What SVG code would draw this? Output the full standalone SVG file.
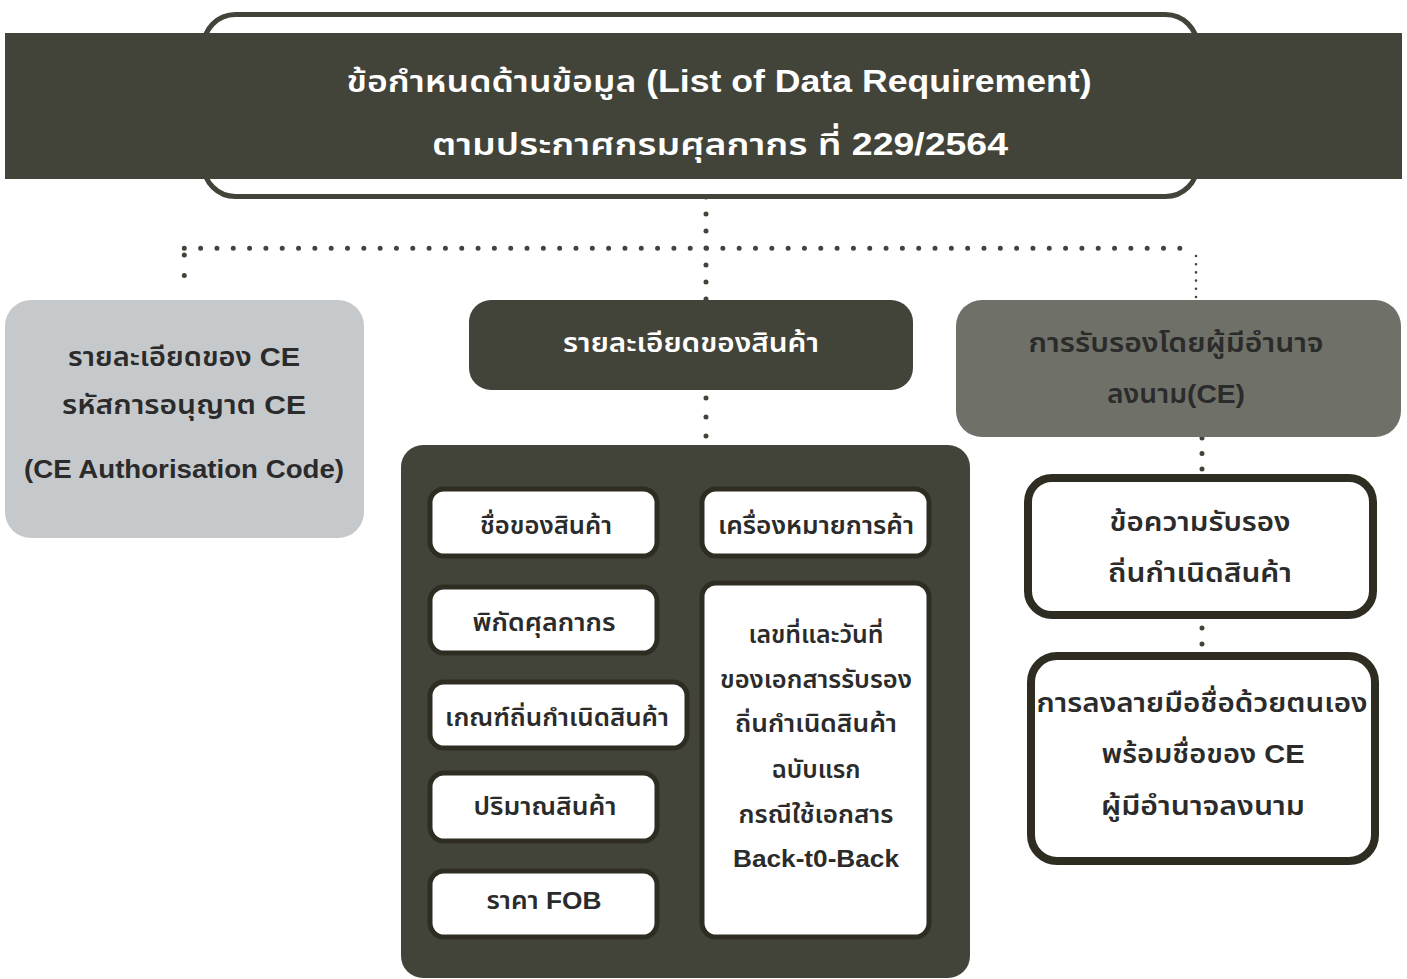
<svg xmlns="http://www.w3.org/2000/svg" width="1407" height="979" viewBox="0 0 1407 979">
<style>
text{font-family:"Liberation Sans","Noto Sans Thai","Noto Sans",sans-serif;font-weight:600;text-anchor:middle}
.t{fill:#ffffff}
.d{fill:#2b2b2b}
.dot{fill:none;stroke:#42443a;stroke-linecap:round}
.inner{fill:#ffffff;stroke:#2f2d22;stroke-width:5}
.outer{fill:#ffffff;stroke:#2f2d22;stroke-width:8}
</style>
<rect width="1407" height="979" fill="#ffffff"/>
<g id="connectors">
<line class="dot" x1="706" y1="197" x2="706" y2="300" stroke-width="5" stroke-dasharray="0 17"/>
<line class="dot" x1="184.3" y1="248.3" x2="1196" y2="248.3" stroke-width="5" stroke-dasharray="0 16.32"/>
<line class="dot" x1="184.3" y1="255" x2="184.3" y2="296" stroke-width="5" stroke-dasharray="0 20.5"/>
<line class="dot" x1="1196" y1="256" x2="1196" y2="298" stroke-width="2.6" stroke-dasharray="0 8.2"/>
<line class="dot" x1="706" y1="398" x2="706" y2="445" stroke-width="5" stroke-dasharray="0 19"/>
<line class="dot" x1="1202" y1="438" x2="1202" y2="470" stroke-width="5" stroke-dasharray="0 15.5"/>
<line class="dot" x1="1202" y1="628" x2="1202" y2="644.5" stroke-width="5" stroke-dasharray="0 16"/>
</g>
<g id="header">
<rect x="203.5" y="14.5" width="994" height="182" rx="32" fill="#ffffff" stroke="#42443a" stroke-width="5"/>
<rect x="5" y="33" width="1397" height="146" fill="#42443a"/>
<text class="t" x="719" y="92" font-size="31" textLength="745" lengthAdjust="spacingAndGlyphs">ข้อกำหนดด้านข้อมูล (List of Data Requirement)</text>
<text class="t" x="720" y="155" font-size="31" textLength="576" lengthAdjust="spacingAndGlyphs">ตามประกาศกรมศุลกากร ที่ 229/2564</text>
</g>
<g id="ce-detail">
<rect x="5" y="300" width="359" height="238" rx="26" fill="#c6c9cc"/>
<text class="d" x="184" y="366" font-size="26" textLength="232" lengthAdjust="spacingAndGlyphs">รายละเอียดของ CE</text>
<text class="d" x="184" y="414" font-size="26" textLength="244" lengthAdjust="spacingAndGlyphs">รหัสการอนุญาต CE</text>
<text class="d" x="184" y="478" font-size="26" textLength="320" lengthAdjust="spacingAndGlyphs">(CE Authorisation Code)</text>
</g>
<g id="goods-detail">
<rect x="469" y="300" width="444" height="90" rx="22" fill="#42443a"/>
<text class="t" x="691" y="352" font-size="26" textLength="256" lengthAdjust="spacingAndGlyphs">รายละเอียดของสินค้า</text>
</g>
<g id="certification">
<rect x="956" y="300" width="445" height="137" rx="26" fill="#6f7168"/>
<text class="d" x="1176" y="352" font-size="26" textLength="295" lengthAdjust="spacingAndGlyphs">การรับรองโดยผู้มีอำนาจ</text>
<text class="d" x="1176" y="403" font-size="26" textLength="138" lengthAdjust="spacingAndGlyphs">ลงนาม(CE)</text>
</g>
<g id="goods-container">
<rect x="401" y="445" width="569" height="533" rx="22" fill="#42443a"/>
</g>
<g id="goods-name">
<rect class="inner" x="430" y="489" width="227" height="67" rx="14"/>
<text class="d" x="546" y="534" font-size="24" textLength="132" lengthAdjust="spacingAndGlyphs">ชื่อของสินค้า</text>
</g>
<g id="trademark">
<rect class="inner" x="702" y="489" width="227" height="67" rx="14"/>
<text class="d" x="816" y="534" font-size="24" textLength="196" lengthAdjust="spacingAndGlyphs">เครื่องหมายการค้า</text>
</g>
<g id="hs-code">
<rect class="inner" x="430" y="587" width="227" height="66" rx="14"/>
<text class="d" x="544" y="631" font-size="24" textLength="143" lengthAdjust="spacingAndGlyphs">พิกัดศุลกากร</text>
</g>
<g id="origin-criteria">
<rect class="inner" x="430" y="682" width="257" height="66" rx="14"/>
<text class="d" x="557" y="726" font-size="24" textLength="224" lengthAdjust="spacingAndGlyphs">เกณฑ์ถิ่นกำเนิดสินค้า</text>
</g>
<g id="quantity">
<rect class="inner" x="430" y="773" width="227" height="68" rx="14"/>
<text class="d" x="545" y="815" font-size="24" textLength="143" lengthAdjust="spacingAndGlyphs">ปริมาณสินค้า</text>
</g>
<g id="fob">
<rect class="inner" x="430" y="871" width="227" height="66" rx="14"/>
<text class="d" x="544" y="909" font-size="24" textLength="115" lengthAdjust="spacingAndGlyphs">ราคา FOB</text>
</g>
<g id="doc-ref">
<rect class="inner" x="702" y="583" width="227" height="354" rx="14"/>
<text class="d" x="816" y="643" font-size="24" textLength="135" lengthAdjust="spacingAndGlyphs">เลขที่และวันที่</text>
<text class="d" x="816" y="688" font-size="24" textLength="192" lengthAdjust="spacingAndGlyphs">ของเอกสารรับรอง</text>
<text class="d" x="816" y="732" font-size="24" textLength="162" lengthAdjust="spacingAndGlyphs">ถิ่นกำเนิดสินค้า</text>
<text class="d" x="816" y="778" font-size="24" textLength="89" lengthAdjust="spacingAndGlyphs">ฉบับแรก</text>
<text class="d" x="816" y="823" font-size="24" textLength="155" lengthAdjust="spacingAndGlyphs">กรณีใช้เอกสาร</text>
<text class="d" x="816" y="867" font-size="24" textLength="166" lengthAdjust="spacingAndGlyphs">Back-t0-Back</text>
</g>
<g id="origin-statement">
<rect class="outer" x="1028" y="478" width="345" height="137" rx="24"/>
<text class="d" x="1200" y="531" font-size="26" textLength="181" lengthAdjust="spacingAndGlyphs">ข้อความรับรอง</text>
<text class="d" x="1200" y="582" font-size="26" textLength="184" lengthAdjust="spacingAndGlyphs">ถิ่นกำเนิดสินค้า</text>
</g>
<g id="signature">
<rect class="outer" x="1031" y="656" width="344" height="205" rx="26"/>
<text class="d" x="1202" y="712" font-size="26" textLength="331" lengthAdjust="spacingAndGlyphs">การลงลายมือชื่อด้วยตนเอง</text>
<text class="d" x="1203" y="763" font-size="26" textLength="203" lengthAdjust="spacingAndGlyphs">พร้อมชื่อของ CE</text>
<text class="d" x="1203" y="815" font-size="26" textLength="204" lengthAdjust="spacingAndGlyphs">ผู้มีอำนาจลงนาม</text>
</g>
</svg>
